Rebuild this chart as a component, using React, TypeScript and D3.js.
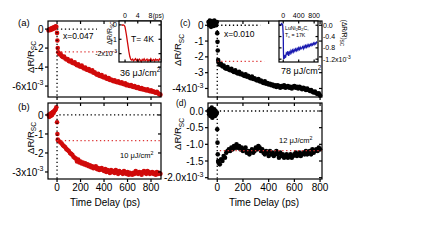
import * as d3 from "d3";
import React from "react";

const FONT = "'Liberation Sans', Arial, Helvetica, sans-serif";
const RED = "#d00a0a";
const RED_DOT = "#dd3535";
const BLUE = "#1a1ab0";

// ΔR/R in units of 1e-3, time delay in ps
const timesAB = [
  -72, -66, -60, -54, -48, -42, -36, -30, -24, -18, -12, -6,
  0, 3, 6,
  10, 20, 30, 40, 50, 60, 70, 80, 90, 100,
  110, 120, 130, 140, 150, 160, 170, 180, 190, 200,
  210, 220, 230, 240, 250, 260, 270, 280, 290, 300,
  310, 320, 330, 340, 350, 360, 370, 380, 390, 400,
  410, 420, 430, 440, 450, 460, 470, 480, 490, 500,
  510, 520, 530, 540, 550, 560, 570, 580, 590, 600,
  610, 620, 630, 640, 650, 660, 670, 680, 690, 700,
  710, 720, 730, 740, 750, 760, 770, 780, 790, 800,
  810, 820, 830, 840, 850, 860, 870, 880,
];
const valuesA = [
  -0.15, -0.05, 0.0, -0.1, 0.05, 0.1, 0.0, 0.15, 0.2, 0.1, 0.3, 0.25,
  -0.4, -1.2, -2.0,
  -2.45, -2.65, -2.6, -2.85, -2.95, -2.9, -3.1, -3.2, -3.15, -3.35,
  -3.4, -3.3, -3.55, -3.6, -3.5, -3.7, -3.8, -3.7, -3.9, -3.95,
  -3.85, -4.05, -4.15, -4.05, -4.25, -4.3, -4.2, -4.4, -4.45, -4.35,
  -4.6, -4.55, -4.7, -4.8, -4.7, -4.9, -4.95, -4.85, -5.05, -5.1,
  -5.0, -5.2, -5.25, -5.15, -5.35, -5.3, -5.4, -5.5, -5.4, -5.55,
  -5.6, -5.5, -5.65, -5.7, -5.6, -5.75, -5.8, -5.7, -5.9, -5.85,
  -5.95, -6.0, -5.9, -6.05, -6.1, -6.0, -6.15, -6.2, -6.1, -6.25,
  -6.3, -6.2, -6.35, -6.3, -6.4, -6.45, -6.35, -6.5, -6.55, -6.45,
  -6.6, -6.55, -6.65, -6.7, -6.6, -6.75, -6.85, -6.9,
];
const valuesB = [
  0.0, -0.1, 0.05, -0.05, 0.1, 0.0, 0.15, 0.1, 0.2, 0.25, 0.3, 0.4,
  -0.38, -1.0, -1.3,
  -1.35, -1.4, -1.45, -1.5, -1.6, -1.65, -1.7, -1.8, -1.85, -1.9,
  -2.0, -2.05, -2.1, -2.2, -2.25, -2.3, -2.45, -2.35, -2.5, -2.45,
  -2.55, -2.5, -2.6, -2.55, -2.65, -2.6, -2.7, -2.65, -2.75, -2.7,
  -2.8, -2.75, -2.7, -2.85, -2.8, -2.9, -2.85, -2.8, -2.9, -2.95,
  -2.85, -3.0, -2.9, -2.95, -3.05, -2.9, -3.0, -2.95, -3.05, -2.9,
  -3.0, -3.1, -2.95, -3.0, -3.05, -3.1, -2.95, -3.05, -3.1, -3.0,
  -3.15, -3.05, -3.1, -3.15, -3.05, -3.1, -2.95, -3.05, -3.1, -3.0,
  -3.05, -3.15, -3.0, -2.95, -3.05, -3.1, -2.95, -3.0, -3.1, -3.05,
  -3.0, -3.1, -3.05, -3.15, -3.0, -3.1, -3.05, -3.1,
];

const timesCD = [
  -68, -63, -58, -53, -48, -43, -38, -33, -28, -23, -18, -13, -8, -3,
  0, 2, 4, 7,
  10, 20, 30, 40, 50, 60, 70, 80, 90, 100,
  110, 120, 130, 140, 150, 160, 170, 180, 190, 200,
  210, 220, 230, 240, 250, 260, 270, 280, 290, 300,
  310, 320, 330, 340, 350, 360, 370, 380, 390, 400,
  410, 420, 430, 440, 450, 460, 470, 480, 490, 500,
  510, 520, 530, 540, 550, 560, 570, 580, 590, 600,
  610, 620, 630, 640, 650, 660, 670, 680, 690, 700,
  710, 720, 730, 740, 750, 760, 770, 780, 790, 800,
];
const valuesC = [
  0.2, 0.0, 0.3, 0.1, -0.1, 0.25, 0.05, 0.2, -0.05, 0.3, 0.1, 0.15, 0.0, 0.2,
  -0.5, -1.05, -1.6, -2.2,
  -2.35, -2.5, -2.45, -2.6, -2.55, -2.7, -2.75, -2.65, -2.8, -2.85,
  -2.75, -2.9, -2.95, -2.85, -3.0, -3.05, -2.95, -3.1, -3.05, -3.15,
  -3.2, -3.1, -3.25, -3.2, -3.3, -3.35, -3.25, -3.4, -3.35, -3.45,
  -3.5, -3.4, -3.55, -3.5, -3.6, -3.65, -3.55, -3.7, -3.65, -3.75,
  -3.7, -3.8, -3.75, -3.85, -3.8, -3.9, -3.8, -3.85, -3.95, -3.85,
  -3.9, -3.8, -3.95, -3.9, -3.85, -3.95, -3.9, -4.0, -3.9, -3.85,
  -3.95, -3.9, -4.0, -3.9, -3.95, -4.05, -3.95, -4.0, -4.1, -4.0,
  -4.1, -4.15, -4.1, -4.2, -4.25, -4.2, -4.3, -4.35, -4.3, -4.45,
];
const valuesD = [
  0.0, -0.1, 0.05, -0.15, -0.05, 0.1, -0.2, 0.0, -0.1, 0.05, -0.15, 0.0, -0.1, -0.05,
  -0.55, -0.95, -1.3, -1.5,
  -1.55, -1.6, -1.45, -1.5, -1.35, -1.4, -1.25, -1.2, -1.15, -1.2,
  -1.1, -1.15, -1.05, -1.1, -1.0, -1.1, -1.05, -1.15, -1.1, -1.2,
  -1.15, -1.1, -1.25, -1.2, -1.3, -1.2, -1.15, -1.25, -1.2, -1.1,
  -1.15, -1.05, -1.1, -1.2, -1.15, -1.25, -1.3, -1.2, -1.25, -1.35,
  -1.2, -1.3, -1.25, -1.35, -1.3, -1.2, -1.3, -1.4, -1.25, -1.35,
  -1.3, -1.4, -1.35, -1.3, -1.4, -1.35, -1.3, -1.4, -1.35, -1.3,
  -1.25, -1.35, -1.3, -1.25, -1.35, -1.3, -1.25, -1.3, -1.2, -1.3,
  -1.25, -1.2, -1.3, -1.15, -1.25, -1.2, -1.15, -1.2, -1.1, -1.15,
];

// inset (a): first few ps at T = 4K
const insetTimesA = [
  -1.1, -0.8, -0.5, -0.2, 0, 0.2, 0.4, 0.6, 0.8, 1.0, 1.2,
  1.5, 1.8, 2.1, 2.4, 2.7, 3.0, 3.3, 3.6, 3.9, 4.2,
  4.5, 4.8, 5.1, 5.4, 5.7, 6.0, 6.3, 6.6, 6.9, 7.2,
  7.5, 7.8, 8.1, 8.4, 8.7, 9.0, 9.3, 9.6, 9.9, 10.2,
  10.5, 10.8, 11.1,
];
const insetValuesA = [
  0.02, -0.02, 0.0, -0.05, -0.15, -0.4, -0.65, -0.95, -1.25, -1.55, -1.85,
  -2.2, -2.4, -2.45, -2.38, -2.5, -2.42, -2.35, -2.48, -2.4, -2.52,
  -2.38, -2.45, -2.55, -2.4, -2.47, -2.36, -2.5, -2.44, -2.38, -2.53,
  -2.42, -2.47, -2.35, -2.5, -2.45, -2.4, -2.52, -2.38, -2.46, -2.42,
  -2.5, -2.37, -2.45,
];

// inset (c): LuNi2B2C reference
const insetTimesC = [
  -100, -70, -40, -15, 0, 5, 10, 20, 30, 45, 60, 80,
  100, 120, 140, 160, 180, 200, 220, 240, 260, 280,
  300, 320, 340, 360, 380, 400, 420, 440, 460, 480,
  500, 520, 540, 560, 580, 600, 620, 640, 660, 680,
  700, 720, 740, 760, 780, 800, 820, 840, 860, 880,
];
const insetValuesC = [
  0.05, 0.0, 0.06, 0.02, -0.35, -0.95, -1.2, -1.12, -1.18, -1.05, -1.15, -0.98,
  -1.02, -0.92, -1.08, -0.95, -1.0, -0.9, -0.97, -0.88, -0.95, -0.86,
  -0.92, -0.84, -0.9, -0.82, -0.88, -0.8, -0.86, -0.78, -0.84, -0.8,
  -0.76, -0.83, -0.74, -0.8, -0.72, -0.78, -0.7, -0.76, -0.69, -0.74,
  -0.67, -0.72, -0.66, -0.7, -0.63, -0.68, -0.62, -0.66, -0.6, -0.63,
];

const xTicks = [0, 200, 400, 600, 800];
const yTicksA = [0, -2, -4, -6];
const yTicksB = [0, -1, -2, -3];
const yTicksC = [0, -1, -2, -3, -4];
const yTicksD = [0, -0.5, -1.0, -1.5, -2.0];
const insetXTicksA = [0, 4, 8];
const insetYTicksA = [0, -1, -2];
const insetXTicksC = [0, 400, 800];
const insetYTicksC = [0, -0.4, -0.8, -1.2];

type Lin = d3.ScaleLinear<number, number>;

const Exp = ({ base, fs }: { base: string; fs: number }) => (
  <>
    {base}
    <tspan dy={-fs * 0.42} fontSize={fs * 0.7}>-3</tspan>
  </>
);

const Frame = ({ x, y, xt, yt, out = 3, inn = 3, allIn = false }:
  { x: Lin; y: Lin; xt: number[]; yt: number[]; out?: number; inn?: number; allIn?: boolean }) => {
  const [x0, x1] = x.range();
  const [y0, y1] = y.range();
  const o = allIn ? -inn : out;
  return (
    <g stroke="#000" strokeWidth={1.2} fill="none">
      {xt.map((t) => (
        <g key={"x" + t}>
          <line x1={x(t)} x2={x(t)} y1={y1} y2={y1 + o} />
          <line x1={x(t)} x2={x(t)} y1={y0} y2={y0 + inn} />
        </g>
      ))}
      {yt.map((v) => (
        <g key={"y" + v}>
          <line x1={x0 - o} x2={x0} y1={y(v)} y2={y(v)} />
          <line x1={x1 - inn} x2={x1} y1={y(v)} y2={y(v)} />
        </g>
      ))}
      <rect x={x0} y={y0} width={x1 - x0} height={y1 - y0} />
    </g>
  );
};

const Dots = ({ x, y, ts, vs, color }: { x: Lin; y: Lin; ts: number[]; vs: number[]; color: string }) => (
  <g fill={color}>
    {ts.map((t, i) => (
      <circle key={i} cx={x(t)} cy={y(vs[i])} r={2.3} />
    ))}
  </g>
);

const Dotted = ({ x1, x2, y1, y2, color }: { x1: number; x2: number; y1: number; y2: number; color: string }) => (
  <line x1={x1} x2={x2} y1={y1} y2={y2} stroke={color} strokeWidth={1.3} strokeDasharray="1.3 2.6" />
);

const YTitle = ({ x, y, fs = 9.5 }: { x: number; y: number; fs?: number }) => (
  <text transform={`translate(${x},${y}) rotate(-90)`} textAnchor="middle" fontSize={fs}>
    ΔR/R<tspan dy={fs * 0.3} fontSize={fs * 0.7}>SC</tspan>
  </text>
);

const Fluence = ({ x, y, value, fs }: { x: number; y: number; value: string; fs: number }) => (
  <text x={x} y={y} fontSize={fs}>
    {value} μJ/cm<tspan dy={-fs * 0.42} fontSize={fs * 0.7}>2</tspan>
  </text>
);

export default function App() {
  const xAB = d3.scaleLinear().domain([-77, 885]).range([48, 161]);
  const xCD = d3.scaleLinear().domain([-72, 815]).range([208, 322]);
  const yA = d3.scaleLinear().domain([0.85, -7.15]).range([21, 97]);
  const yB = d3.scaleLinear().domain([0.63, -3.37]).range([103, 179]);
  const yC = d3.scaleLinear().domain([0.27, -4.54]).range([21, 97]);
  const yD = d3.scaleLinear().domain([0.24, -2.04]).range([103, 179]);

  const ixA = d3.scaleLinear().domain([-1.9, 11.3]).range([119, 161]);
  const iyA = d3.scaleLinear().domain([0.27, -2.58]).range([21, 62]);
  const ixC = d3.scaleLinear().domain([-110, 900]).range([279, 318]);
  const iyC = d3.scaleLinear().domain([0.15, -1.3]).range([21, 62]);

  const lineA = d3.line<number>().x((_, i) => ixA(insetTimesA[i])).y((v) => iyA(v))(insetValuesA) || "";
  const lineC = d3.line<number>().x((_, i) => ixC(insetTimesC[i])).y((v) => iyC(v))(insetValuesC) || "";

  const yLabels = (x: Lin, y: Lin, ticks: number[], fmt: (v: number) => string) =>
    ticks.map((v, i) => (
      <text key={v} x={x.range()[0] - 4.5} y={y(v) + 3.6} textAnchor="end" fontSize={10}>
        {i === ticks.length - 1 ? <Exp base={fmt(v) + "x10"} fs={10} /> : fmt(v)}
      </text>
    ));
  const xLabels = (x: Lin) =>
    xTicks.map((t) => (
      <text key={t} x={x(t)} y={191} textAnchor="middle" fontSize={10}>{t}</text>
    ));

  return (
    <div style={{ position: "absolute", left: 0, top: 0 }}>
      <svg width={427} height={240} style={{ display: "block", fontFamily: FONT }}>
        <rect width={427} height={240} fill="#fff" />

        {/* (a) */}
        <Dots x={xAB} y={yA} ts={timesAB} vs={valuesA} color={RED} />
        <Dotted x1={xAB(0)} x2={xAB(340)} y1={yA(0)} y2={yA(0)} color="#000" />
        <Dotted x1={xAB(0)} x2={xAB(510)} y1={yA(-2.4)} y2={yA(-2.4)} color={RED_DOT} />
        <Dotted x1={xAB(0)} x2={xAB(0)} y1={yA(-0.3)} y2={97} color="#000" />
        <Frame x={xAB} y={yA} xt={xTicks} yt={yTicksA} />
        {yLabels(xAB, yA, yTicksA, (v) => String(v))}
        <YTitle x={33.5} y={57} />
        <text x={18} y={26} fontSize={9.5}>(a)</text>
        <text x={63} y={39} fontSize={8.5}>x=0.047</text>
        <Fluence x={120} y={75.5} value="36" fs={9} />

        {/* inset (a) */}
        <rect x={119} y={21} width={42} height={41} fill="#fff" />
        <path d={lineA} fill="none" stroke={RED} strokeWidth={1.3} />
        <Frame x={ixA} y={iyA} xt={insetXTicksA} yt={insetYTicksA} inn={2.5} allIn />
        {insetXTicksA.map((t) => (
          <text key={t} x={ixA(t)} y={17.5} textAnchor="middle" fontSize={7}>{t}</text>
        ))}
        <text x={ixA(8) + 2.2} y={17.5} fontSize={6.5}>(ps)</text>
        {insetYTicksA.map((v, i) => (
          <text key={v} x={117} y={iyA(v) + 2.5} textAnchor="end" fontSize={7}>
            {i === insetYTicksA.length - 1 ? <Exp base={v + "x10"} fs={7} /> : String(v)}
          </text>
        ))}
        <YTitle x={111.5} y={33} fs={7} />
        <text x={131} y={42} fontSize={8.5}>T= 4K</text>

        {/* (b) */}
        <Dots x={xAB} y={yB} ts={timesAB} vs={valuesB} color={RED} />
        <Dotted x1={xAB(20)} x2={161} y1={yB(0)} y2={yB(0)} color="#000" />
        <Dotted x1={xAB(0)} x2={161} y1={yB(-1.35)} y2={yB(-1.35)} color={RED_DOT} />
        <Dotted x1={xAB(0)} x2={xAB(0)} y1={yB(0)} y2={179} color="#000" />
        <Frame x={xAB} y={yB} xt={xTicks} yt={yTicksB} />
        {yLabels(xAB, yB, yTicksB, (v) => String(v))}
        {xLabels(xAB)}
        <YTitle x={33.5} y={138} />
        <text x={18} y={110} fontSize={9.5}>(b)</text>
        <Fluence x={120} y={158} value="10" fs={7.5} />
        <text x={105} y={205.5} textAnchor="middle" fontSize={10}>Time Delay (ps)</text>

        {/* (c) */}
        <Dots x={xCD} y={yC} ts={timesCD} vs={valuesC} color="#000" />
        <Dotted x1={xCD(0)} x2={xCD(335)} y1={yC(0)} y2={yC(0)} color="#000" />
        <Dotted x1={xCD(0)} x2={xCD(365)} y1={yC(-2.28)} y2={yC(-2.28)} color={RED_DOT} />
        <Dotted x1={xCD(0)} x2={xCD(0)} y1={yC(-0.3)} y2={97} color="#000" />
        <Frame x={xCD} y={yC} xt={xTicks} yt={yTicksC} />
        {yLabels(xCD, yC, yTicksC, (v) => String(v))}
        <YTitle x={181} y={50} />
        <text x={180} y={26} fontSize={9}>(c)</text>
        <text x={224} y={37} fontSize={8.5}>x=0.010</text>
        <Fluence x={281} y={74} value="78" fs={9} />

        {/* inset (c) */}
        <rect x={279} y={21} width={39} height={41} fill="#fff" />
        <path d={lineC} fill="none" stroke={BLUE} strokeWidth={1.3} />
        <Frame x={ixC} y={iyC} xt={insetXTicksC} yt={insetYTicksC} inn={2.5} allIn />
        {insetXTicksC.map((t) => (
          <text key={t} x={ixC(t)} y={17.5} textAnchor="middle" fontSize={7}>{t}</text>
        ))}
        {insetYTicksC.map((v, i) => (
          <text key={v} x={323} y={iyC(v) + 2.5} fontSize={7}>
            {i === insetYTicksC.length - 1 ? <Exp base={v.toFixed(1) + "x10"} fs={7} /> : v.toFixed(1)}
          </text>
        ))}
        <text transform="translate(341.5,33) rotate(90)" textAnchor="middle" fontSize={6.5}>
          (ΔR/R)<tspan dy={2} fontSize={4.8}>SC</tspan>
        </text>
        <text x={285} y={30} fontSize={5.2}>
          LuNi<tspan dy={1.3} fontSize={3.8}>2</tspan><tspan dy={-1.3}>B</tspan>
          <tspan dy={1.3} fontSize={3.8}>2</tspan><tspan dy={-1.3}>C,</tspan>
        </text>
        <text x={285} y={36.5} fontSize={5.2}>
          T<tspan dy={1.3} fontSize={3.8}>c</tspan><tspan dy={-1.3}> = 17K</tspan>
        </text>

        {/* (d) */}
        <Dots x={xCD} y={yD} ts={timesCD} vs={valuesD} color="#000" />
        <Dotted x1={xCD(20)} x2={322} y1={yD(0)} y2={yD(0)} color="#000" />
        <Dotted x1={xCD(20)} x2={322} y1={yD(-1.19)} y2={yD(-1.19)} color={RED_DOT} />
        <Dotted x1={xCD(0)} x2={xCD(0)} y1={yD(0)} y2={179} color="#000" />
        <Frame x={xCD} y={yD} xt={xTicks} yt={yTicksD} />
        {yLabels(xCD, yD, yTicksD, (v) => v.toFixed(1))}
        {xLabels(xCD)}
        <YTitle x={181} y={134} />
        <text x={176} y={106} fontSize={8.5}>(d)</text>
        <Fluence x={279} y={143} value="12" fs={7.5} />
        <text x={264} y={205.5} textAnchor="middle" fontSize={10}>Time Delay (ps)</text>
      </svg>
    </div>
  );
}
